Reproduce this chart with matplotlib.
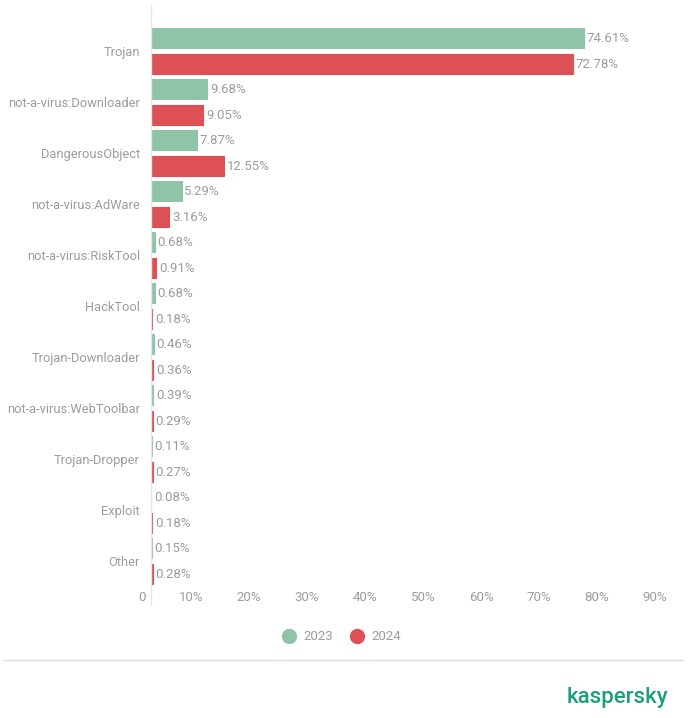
import matplotlib.pyplot as plt
from matplotlib.lines import Line2D
import numpy as np

plt.rcParams['font.family'] = ['Roboto', 'DejaVu Sans']

# Data
categories = ['Trojan', 'not-a-virus:Downloader', 'DangerousObject', 'not-a-virus:AdWare',
              'not-a-virus:RiskTool', 'HackTool', 'Trojan-Downloader', 'not-a-virus:WebToolbar',
              'Trojan-Dropper', 'Exploit', 'Other']
share_2023 = [74.61, 9.68, 7.87, 5.29, 0.68, 0.68, 0.46, 0.39, 0.11, 0.08, 0.15]
share_2024 = [72.78, 9.05, 12.55, 3.16, 0.91, 0.18, 0.36, 0.29, 0.27, 0.18, 0.28]
years = ['2023', '2024']
x_ticks = [0, 10, 20, 30, 40, 50, 60, 70, 80, 90]

green = '#8fc4a8'
red = '#dc5056'
grey = '#9c9c9c'

fig = plt.figure(figsize=(6.9, 7.18), dpi=100)
ax = fig.add_axes([151/690, 1 - 604/718, 522/690, 599/718])

y = np.arange(len(categories))
h = 0.39
off = 0.255
ax.barh(y - off, share_2023, height=h, color=green, edgecolor=green, linewidth=0.8, label=years[0])
ax.barh(y + off, share_2024, height=h, color=red, edgecolor=red, linewidth=0.8, label=years[1])

for yi, v in zip(y, share_2023):
    ax.annotate(f'{v:.2f}%', (v, yi - off), xytext=(2, -0.5), textcoords='offset points',
                va='center', ha='left', fontsize=9.5, color=grey)
for yi, v in zip(y, share_2024):
    ax.annotate(f'{v:.2f}%', (v, yi + off), xytext=(2, -0.5), textcoords='offset points',
                va='center', ha='left', fontsize=9.5, color=grey)

ax.set_xlim(0, 90)
ax.set_ylim(10.84, -0.9)
ax.set_yticks(y)
ax.set_yticklabels(categories, fontsize=9.3, color=grey)
ax.set_xticks(x_ticks)
ax.set_xticklabels([])
# tick labels sit just left of their tick, as in the original
for t in x_ticks:
    ax.annotate('0' if t == 0 else f'{t}%', (t, 0), xycoords=('data', 'axes fraction'),
                xytext=(-4, 4.5), textcoords='offset points', ha='right', va='center',
                fontsize=9.5, color=grey, annotation_clip=False)
ax.tick_params(axis='both', length=0)
ax.tick_params(axis='y', pad=8)
for s in ['top', 'right', 'bottom']:
    ax.spines[s].set_visible(False)
ax.spines['left'].set_color('#e6e6e6')
ax.spines['left'].set_linewidth(1)

handles = [Line2D([], [], marker='o', linestyle='', markersize=10, color=c) for c in [green, red]]
leg = fig.legend(handles, years, loc='center', bbox_to_anchor=(0.49, 1 - 637/718), ncol=2,
                 frameon=False, fontsize=9.5, handletextpad=0.1, columnspacing=0.8)
for t in leg.get_texts():
    t.set_color(grey)

fig.add_artist(Line2D([0.005, 0.99], [1 - 660/718, 1 - 660/718], color='#dddddd', lw=1))
fig.text(0.968, 1 - 698/718, 'kaspersky', ha='right', va='center', fontsize=16,
         color='#1d9d7f', fontweight='medium')

fig.savefig('out.png', dpi=100)
